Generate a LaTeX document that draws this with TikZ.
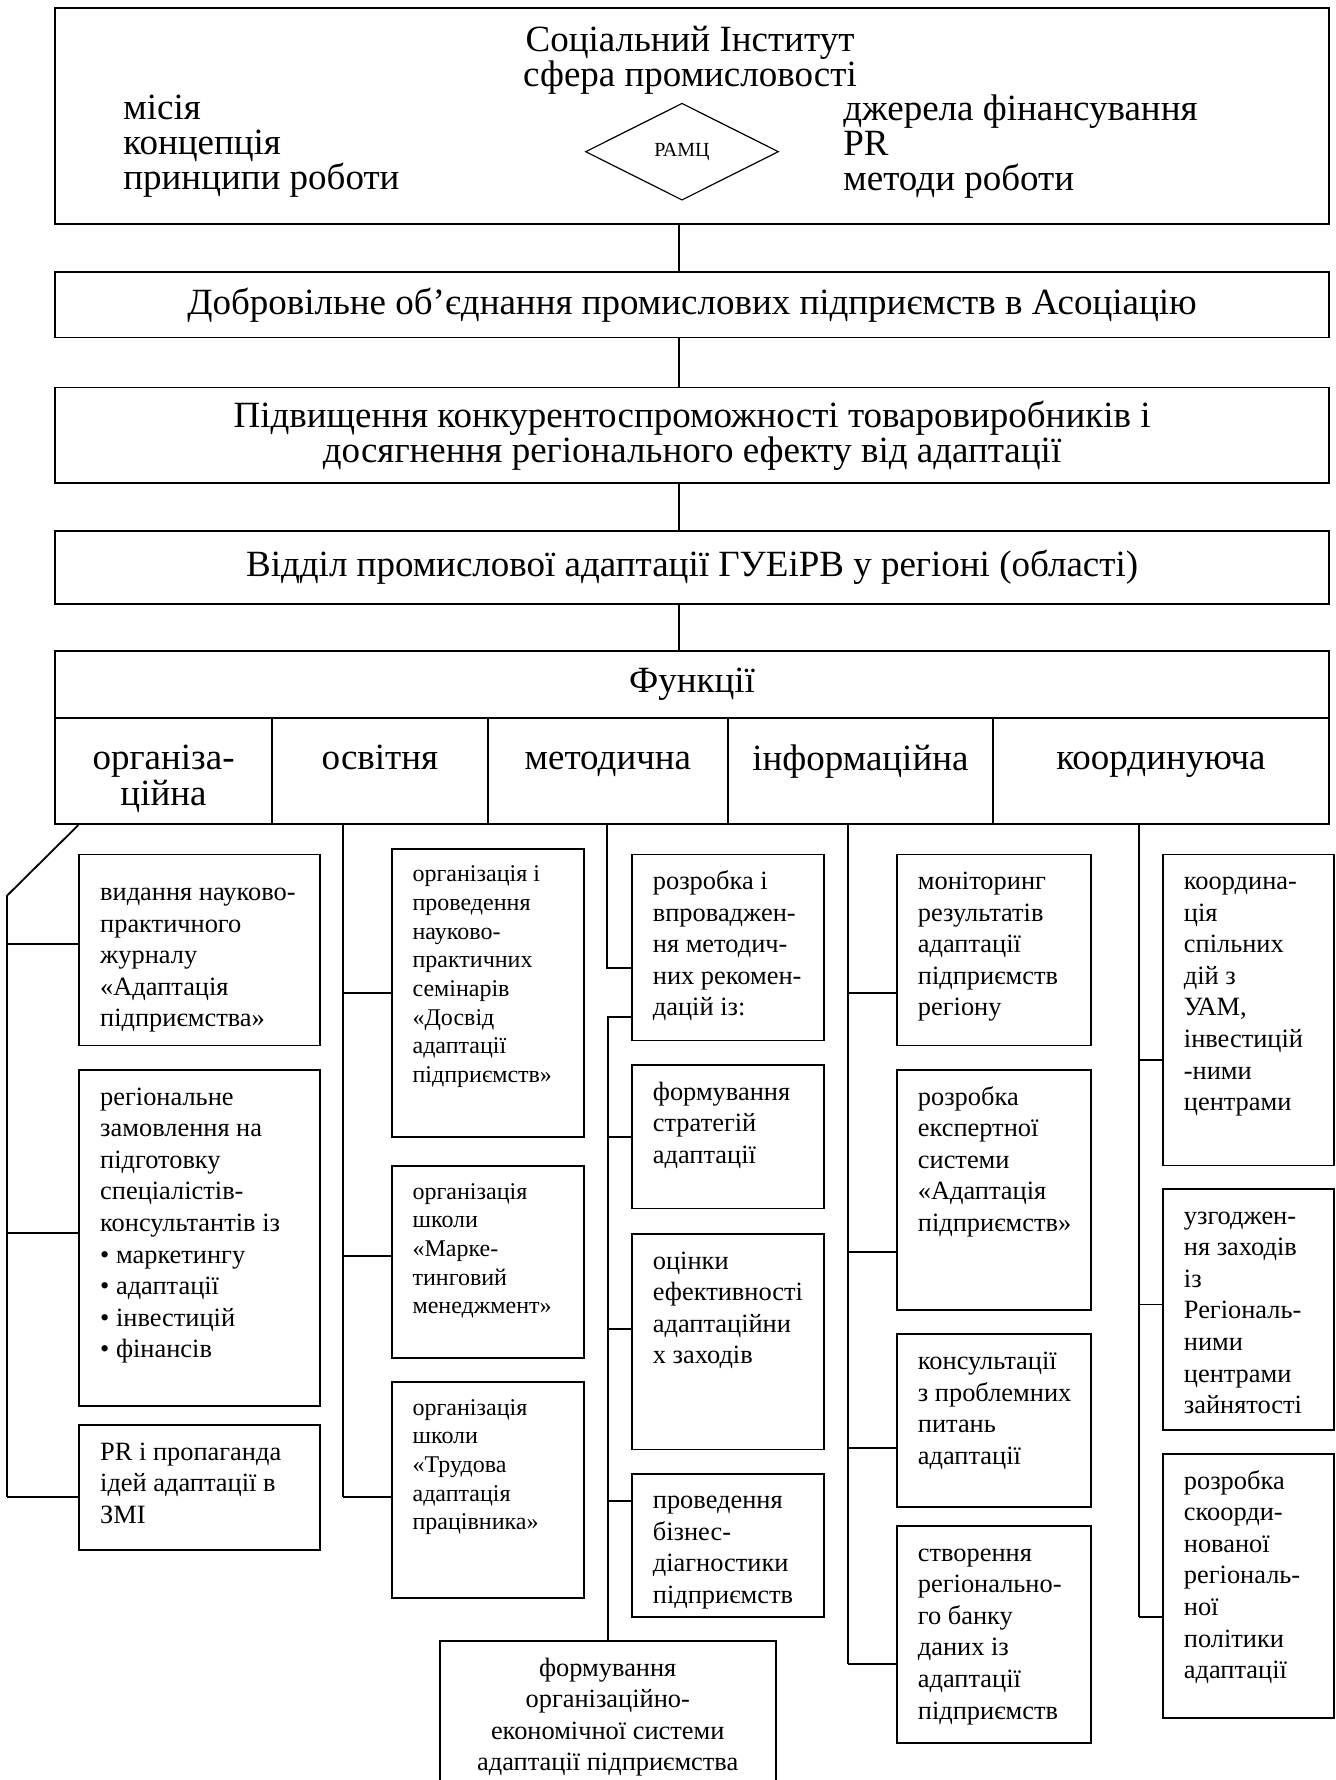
\documentclass[tikz,border=0pt]{standalone}
\usepackage{fontspec}
\setmainfont{Liberation Serif}
\usetikzlibrary{shapes.geometric,calc}

\newcommand{\bigfont}{\fontsize{18.5}{17.5}\selectfont}
\newcommand{\smallfont}{\fontsize{13.2}{15.8}\selectfont}
\newcommand{\osvfont}{\fontsize{12}{14.35}\selectfont}
% box text, set from the top edge
\newcommand{\boxtext}[3]{\parbox[c][#1][t]{#2}{\begin{tabular}[t]{@{}l@{}}#3\end{tabular}}}
\newcommand{\celltext}[3]{\parbox[c][#1][t]{#2}{\centering\begin{tabular}[t]{@{}c@{}}#3\end{tabular}}}

\tikzset{
  bigbox/.style={draw, line width=0.9pt, anchor=north west, inner sep=0pt, minimum width=636.85pt, font=\bigfont, align=center},
  subbox/.style={draw, line width=0.9pt, anchor=north west, inner xsep=10.5pt, inner ysep=6.5pt, font=\smallfont},
  link/.style={line width=0.9pt}
}

\begin{document}
\begin{tikzpicture}[x=0.5pt, y=-0.5pt]
    \useasboundingbox (0,0) rectangle (1335,1780);

    % Top box
    \node[bigbox, minimum height=108pt] (inst) at (54.3,7.3) {};
    \node[font=\bigfont, align=center] (title) at (690,59.8) {Соціальний Інститут\\сфера промисловості};
    \node[font=\bigfont, align=left, anchor=west, inner sep=0pt] (leftlist) at (123,146.6) {місія\\концепція\\принципи роботи};
    \node[font=\bigfont, align=left, anchor=west, inner sep=0pt] (rightlist) at (843,146.6) {джерела фінансування\\PR\\методи роботи};
    \node[diamond, draw, line width=0.6pt, minimum width=96.5pt, minimum height=48.5pt, inner sep=0pt, font=\fontsize{10}{12}\selectfont] (ramc) at (682,151.7) {РАМЦ};

    % Chain of boxes
    \node[bigbox, minimum height=32.85pt] (assoc) at (54.3,271) {Добровільне об’єднання промислових підприємств в Асоціацію};
    \node[bigbox, minimum height=47.8pt] (compet) at (54.3,386.7) {Підвищення конкурентоспроможності товаровиробників і\\досягнення регіонального ефекту від адаптації};
    \node[bigbox, minimum height=36.35pt] (dept) at (54.3,530) {Відділ промислової адаптації ГУЕіРВ у регіоні (області)};

    % Functions
    \node[bigbox, minimum height=33.65pt] (func) at (54.3,650) {Функції};
    \foreach \xl/\xr/\nm/\txt in {54.3/271/orgf/{організа-\\ційна}, 271/487/osvf/освітня, 487/727/metf/методична, 727/992/inff/інформаційна, 992/1328/korf/координуюча} {
        \pgfmathsetmacro{\w}{(\xr-\xl)/2}
        \node[draw, line width=0.9pt, anchor=north west, inner xsep=0pt, inner ysep=13.5pt, font=\bigfont] (\nm) at (\xl,717.3) {\celltext{26pt}{\w pt}{\txt}};
    }

    % Spine
    \coordinate (spine) at (679,0);
    \foreach \a/\b in {inst/assoc, assoc/compet, compet/dept, dept/func} {
        \draw[link] (spine |- \a.south) -- (spine |- \b.north);
    }

    % Organisational column
    \node[subbox, inner ysep=12pt] (org1) at (78.3,853.5) {\boxtext{71.55pt}{99.35pt}{видання науково-\\практичного\\журналу\\«Адаптація\\підприємства»}};
    \node[subbox] (org2) at (78.3,1069) {\boxtext{155pt}{99.35pt}{регіональне\\замовлення на\\підготовку\\спеціалістів-\\консультантів із\\• маркетингу\\• адаптації\\• інвестицій\\• фінансів}};
    \node[subbox] (org3) at (78.3,1424) {\boxtext{49.65pt}{99.35pt}{PR і пропаганда\\ідей адаптації в\\ЗМІ}};
    \coordinate (orgbus) at (6.7,896);
    \draw[link] ($(orgf.south west)+(24,0)$) -- (orgbus);
    \foreach \nm/\s in {org1/3.1, org2/2.5, org3/-4.7} {
        \coordinate (\nm in) at ([yshift=\s pt]\nm.west);
        \draw[link] (\nm in) -- (\nm in -| orgbus);
    }
    \draw[link] (orgbus) -- (org3in -| orgbus);

    % Educational column
    \node[subbox, font=\osvfont] (osv1) at (390.7,847.7) {\boxtext{131.15pt}{75.3pt}{організація і\\проведення\\науково-\\практичних\\семінарів\\«Досвід\\адаптації\\підприємств»}};
    \node[subbox, font=\osvfont] (osv2) at (390.7,1165) {\boxtext{83pt}{75.3pt}{організація\\школи\\«Марке-\\тинговий\\менеджмент»}};
    \node[subbox, font=\osvfont] (osv3) at (390.7,1381) {\boxtext{94.85pt}{75.3pt}{організація\\школи\\«Трудова\\адаптація\\працівника»}};
    \coordinate (osvtop) at ($(osvf.south west)+(72.3,0)$);
    \foreach \nm/\s in {osv1/0, osv2/3, osv3/-3.6} {
        \coordinate (\nm in) at ([yshift=\s pt]\nm.west);
        \draw[link] (\nm in) -- (\nm in -| osvtop);
    }
    \draw[link] (osvtop) -- (osv3in -| osvtop);

    % Methodical column
    \node[subbox] (met1) at (631,853.5) {\boxtext{80.05pt}{75pt}{розробка і\\впроваджен-\\ня методич-\\них рекомен-\\дацій із:}};
    \node[subbox] (met2) at (631,1064) {\boxtext{58.75pt}{75pt}{формування\\стратегій\\адаптації}};
    \node[subbox] (met3) at (631,1233) {\boxtext{94.8pt}{75pt}{оцінки\\ефективності\\адаптаційни\\х заходів}};
    \node[subbox] (met4) at (631,1472.7) {\boxtext{58.65pt}{75pt}{проведення\\бізнес-\\діагностики\\підприємств}};
    \node[draw, line width=0.9pt, anchor=north west, inner xsep=0pt, inner ysep=6.5pt, font=\smallfont] (form) at (438.7,1640) {\celltext{67pt}{168.15pt}{формування\\організаційно-\\економічної  системи\\адаптації підприємства}};
    \coordinate (mettop) at ($(metf.south west)+(119.7,0)$);
    \coordinate (met1in) at ([yshift=-10.2pt]met1.west);
    \coordinate (met1out) at ([yshift=-34.7pt]met1.west);
    \draw[link] (mettop) |- (met1in);
    \draw[link] (met1out) -| (form.north);
    \foreach \nm/\s in {met2/0, met3/6.4, met4/22} {
        \coordinate (\nm in) at ([yshift=\s pt]\nm.west);
        \draw[link] (\nm in) -- (\nm in -| form.north);
    }

    % Informational column
    \node[subbox] (inf1) at (896,853.5) {\boxtext{82.55pt}{76pt}{моніторинг\\результатів\\адаптації\\підприємств\\регіону}};
    \node[subbox] (inf2) at (896,1069) {\boxtext{106.9pt}{76pt}{розробка\\експертної\\системи\\«Адаптація\\підприємств»}};
    \node[subbox] (inf3) at (896,1333.4) {\boxtext{73.3pt}{76pt}{консультації\\з проблемних\\питань\\адаптації}};
    \node[subbox] (inf4) at (896,1525) {\boxtext{95.35pt}{76pt}{створення\\регіонально-\\го банку\\даних із\\адаптації\\підприємств}};
    \coordinate (inftop) at ($(inff.south west)+(120.6,0)$);
    \foreach \nm/\s in {inf1/-21.5, inf2/-31, inf3/-13.7, inf4/-14.8} {
        \coordinate (\nm in) at ([yshift=\s pt]\nm.west);
        \draw[link] (\nm in) -- (\nm in -| inftop);
    }
    \draw[link] (inftop) -- (inf4in -| inftop);

    % Coordinating column
    \node[subbox] (kor1) at (1162,853.5) {\boxtext{142.55pt}{64.5pt}{координа-\\ція\\спільних\\дій з\\УАМ,\\інвестицій\\-ними\\центрами}};
    \node[subbox] (kor2) at (1162,1188) {\boxtext{107.5pt}{64.5pt}{узгоджен-\\ня заходів\\із\\Регіональ-\\ними\\центрами\\зайнятості}};
    \node[subbox] (kor3) at (1162,1453) {\boxtext{119pt}{64.5pt}{розробка\\скоорди-\\нованої\\регіональ-\\ної\\політики\\адаптації}};
    \coordinate (kortop) at ($(korf.south west)+(147,0)$);
    \foreach \nm/\s in {kor1/-24.9, kor2/2.5, kor3/-15.5} {
        \coordinate (\nm in) at ([yshift=\s pt]\nm.west);
        \draw[link] (\nm in) -- (\nm in -| kortop);
    }
    \draw[link] (kortop) -- (kor3in -| kortop);
\end{tikzpicture}
\end{document}
